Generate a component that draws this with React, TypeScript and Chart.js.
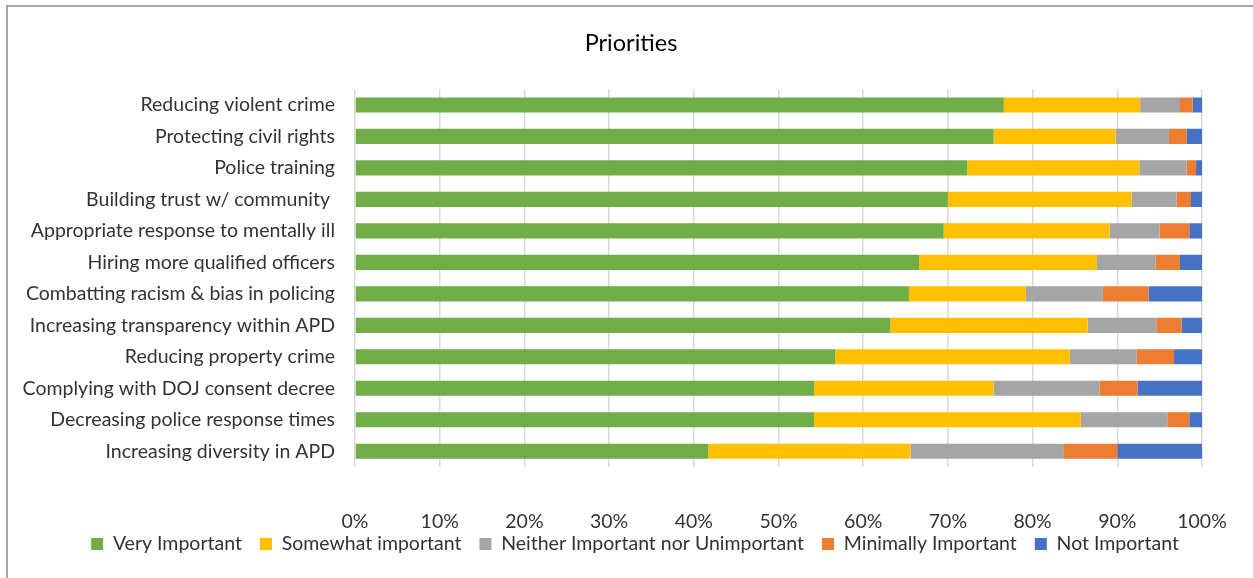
import React, { useEffect, useRef } from "react";
import { Chart, registerables } from "chart.js";

Chart.register(...registerables);

const categories = [
  "Reducing violent crime",
  "Protecting civil rights",
  "Police training",
  "Building trust w/ community ",
  "Appropriate response to mentally ill",
  "Hiring more qualified officers",
  "Combatting racism & bias in policing",
  "Increasing transparency within APD",
  "Reducing property crime",
  "Complying with DOJ consent decree",
  "Decreasing police response times",
  "Increasing diversity in APD",
];

const seriesNames = [
  "Very Important",
  "Somewhat important",
  "Neither Important nor Unimportant",
  "Minimally Important",
  "Not Important",
];

const veryImportant = [76.6, 75.4, 72.3, 70.0, 69.5, 66.6, 65.4, 63.2, 56.7, 54.2, 54.2, 41.7];
const somewhatImportant = [16.1, 14.4, 20.3, 21.7, 19.6, 21.0, 13.8, 23.3, 27.7, 21.2, 31.5, 23.9];
const neitherImportant = [4.7, 6.3, 5.6, 5.3, 5.9, 6.9, 9.1, 8.1, 7.9, 12.5, 10.2, 18.1];
const minimallyImportant = [1.5, 2.1, 1.1, 1.7, 3.5, 2.9, 5.4, 3.0, 4.4, 4.5, 2.6, 6.3];
const notImportant = [1.1, 1.8, 0.7, 1.3, 1.5, 2.6, 6.3, 2.4, 3.3, 7.6, 1.5, 10.0];

const colors = ["#70AD47", "#FFC000", "#A5A5A5", "#ED7D31", "#4472C4"];

const FONT = "Lato, 'Open Sans', sans-serif";
const TEXT = "#333333";

const shiftPlugin = {
  id: "shiftBlocks",
  afterLayout(chart: any) {
    const t = chart.titleBlock;
    if (t) {
      t.left += 20;
      t.right += 20;
    }
    const l = chart.legend;
    if (l) {
      l.left += 24;
      l.right += 24;
      l.top -= 16.7;
    }
  },
};

export default function App() {
  const ref = useRef<HTMLCanvasElement | null>(null);

  useEffect(() => {
    if (!ref.current) return;
    const values = [veryImportant, somewhatImportant, neitherImportant, minimallyImportant, notImportant];
    const chart = new Chart(ref.current, {
      type: "bar",
      data: {
        labels: categories,
        datasets: seriesNames.map((name, i) => ({
          label: name,
          data: values[i],
          backgroundColor: colors[i],
          borderWidth: 0,
          categoryPercentage: 1,
          barPercentage: 0.48,
        })),
      },
      plugins: [shiftPlugin],
      options: {
        indexAxis: "y",
        responsive: false,
        animation: false,
        devicePixelRatio: 1,
        layout: { padding: { left: 20, right: 51, top: 0, bottom: 9 } },
        plugins: {
          title: {
            display: true,
            text: "Priorities",
            color: "#000000",
            font: { family: FONT, size: 23.5, weight: "normal" },
            padding: { top: 29, bottom: 32 },
          },
          legend: {
            position: "bottom",
            maxHeight: 36,
            labels: {
              color: TEXT,
              font: { family: FONT, size: 19.5 },
              boxWidth: 12,
              boxHeight: 12,
              padding: 18,
            },
          },
          tooltip: { enabled: false },
        },
        scales: {
          x: {
            stacked: true,
            min: 0,
            max: 100,
            ticks: {
              stepSize: 10,
              padding: 42.6,
              maxRotation: 0,
              minRotation: 0,
              color: TEXT,
              font: { family: FONT, size: 19.5 },
              callback: (v: any) => v + "%",
            },
            grid: { color: "#D9D9D9", lineWidth: 1.5, drawTicks: false },
            border: { display: false },
            afterFit: (s: any) => {
              s.height = 66;
              s.paddingLeft = 0;
              s.paddingRight = 0;
            },
          },
          y: {
            stacked: true,
            ticks: {
              padding: 20,
              color: TEXT,
              font: { family: FONT, size: 19.5 },
              autoSkip: false,
            },
            grid: { display: false, drawTicks: false },
            border: { display: false },
            afterFit: (s: any) => {
              s.width = 335;
              s.paddingTop = 0;
              s.paddingBottom = 0;
            },
          },
        },
      },
    });
    return () => chart.destroy();
  }, []);

  return (
    <div style={{ position: "fixed", left: 0, top: 0, width: 1253, height: 578, background: "#fff" }}>
      <canvas ref={ref} width={1253} height={578} style={{ position: "absolute", left: 0, top: 0, width: 1253, height: 578 }} />
      <div
        style={{
          position: "absolute",
          left: 6,
          top: 5,
          width: 1260,
          height: 590,
          borderLeft: "2px solid #A6A6A6",
          borderTop: "2px solid #A6A6A6",
          pointerEvents: "none",
        }}
      />
    </div>
  );
}
